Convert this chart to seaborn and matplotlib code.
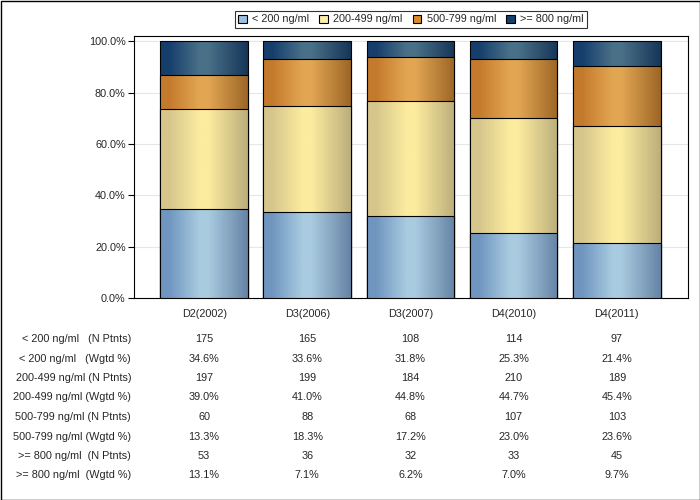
import numpy as np
import pandas as pd
import matplotlib
matplotlib.use("Agg")
import matplotlib.pyplot as plt
import seaborn as sns
from matplotlib.colors import LinearSegmentedColormap
from matplotlib.patches import Patch, Rectangle
from matplotlib.transforms import blended_transform_factory

# data
visits = ["D2(2002)", "D3(2006)", "D3(2007)", "D4(2010)", "D4(2011)"]
groups = ["< 200 ng/ml", "200-499 ng/ml", "500-799 ng/ml", ">= 800 ng/ml"]
n_lt200 = [175, 165, 108, 114, 97]
pct_lt200 = [34.6, 33.6, 31.8, 25.3, 21.4]
n_200_499 = [197, 199, 184, 210, 189]
pct_200_499 = [39.0, 41.0, 44.8, 44.7, 45.4]
n_500_799 = [60, 88, 68, 107, 103]
pct_500_799 = [13.3, 18.3, 17.2, 23.0, 23.6]
n_ge800 = [53, 36, 32, 33, 45]
pct_ge800 = [13.1, 7.1, 6.2, 7.0, 9.7]

row_labels = ["< 200 ng/ml   (N Ptnts)", "< 200 ng/ml   (Wgtd %)",
              "200-499 ng/ml (N Ptnts)", "200-499 ng/ml (Wgtd %)",
              "500-799 ng/ml (N Ptnts)", "500-799 ng/ml (Wgtd %)",
              ">= 800 ng/ml  (N Ptnts)", ">= 800 ng/ml  (Wgtd %)"]

# gradient stops (left edge, highlight, right edge) and legend colour
shades = {
    "< 200 ng/ml": ("#7096c0", "#a9cbe0", "#6684a6", "#9dbfe3"),
    "200-499 ng/ml": ("#d6c68c", "#fcec9f", "#bcae7c", "#fdeeaa"),
    "500-799 ng/ml": ("#c47a2c", "#e2a653", "#9c6626", "#d98b2e"),
    ">= 800 ng/ml": ("#163e6c", "#4a7088", "#163658", "#173f6e"),
}

pct = pd.DataFrame({"visit": visits, groups[0]: pct_lt200, groups[1]: pct_200_499,
                    groups[2]: pct_500_799, groups[3]: pct_ge800})
cum = pct[groups].cumsum(axis=1)
cum.iloc[:, -1] = 100.0
cum["visit"] = visits

sns.set_style("white")
plt.rcParams["font.family"] = ["Liberation Sans", "DejaVu Sans"]
fs = 7.8

fig = plt.figure(figsize=(7, 5), dpi=100)
ax = fig.add_axes([134 / 700, 1 - 298 / 500, (688 - 134) / 700, (298 - 36) / 500])

for y in [20, 40, 60, 80, 100]:
    ax.axhline(y, color="#e6e6e6", lw=0.8, zorder=0)

grad_x = np.linspace(0, 1, 200).reshape(1, -1)
for i, g in enumerate(reversed(groups)):
    left, mid, right, _ = shades[g]
    cmap = LinearSegmentedColormap.from_list(g, [(0, left), (0.1, left), (0.45, mid), (0.55, mid), (1, right)])
    n_before = len(ax.patches)
    sns.barplot(data=cum, x="visit", y=g, order=visits, width=0.85, color=left,
                edgecolor="black", linewidth=0.8, saturation=1, ax=ax)
    z = 2 + 3 * i
    for p in ax.patches[n_before:]:
        x0, y0 = p.get_x(), p.get_y()
        w, h = p.get_width(), p.get_height()
        im = ax.imshow(grad_x, cmap=cmap, extent=[x0, x0 + w, y0, y0 + h],
                       aspect="auto", zorder=z + 1, interpolation="bilinear")
        im.set_clip_path(p)
        p.set_facecolor("none")
        p.set_zorder(z + 2)

ax.set_xlim(-0.68, 4.69)
ax.set_ylim(0, 102)
ax.set_yticks([0, 20, 40, 60, 80, 100])
ax.set_yticklabels([f"{v:.1f}%" for v in [0, 20, 40, 60, 80, 100]])
ax.set_xlabel("")
ax.set_ylabel("")
ax.tick_params(axis="y", length=4, width=0.8, color="black", labelsize=fs, pad=2, left=True)
ax.tick_params(axis="x", length=0, labelsize=fs, pad=8)
for s in ax.spines.values():
    s.set_color("black")
    s.set_linewidth(0.8)

# table under the chart
table_rows = [n_lt200, pct_lt200, n_200_499, pct_200_499, n_500_799, pct_500_799, n_ge800, pct_ge800]
trans = blended_transform_factory(ax.transData, fig.transFigure)
row_y = [339, 358.5, 378, 397.5, 417, 436.5, 456, 475.5]
for r, (lab, vals) in enumerate(zip(row_labels, table_rows)):
    yf = 1 - row_y[r] / 500
    fig.text(131 / 700, yf, lab, ha="right", va="center", fontsize=fs)
    for j, v in enumerate(vals):
        txt = f"{v}" if r % 2 == 0 else f"{v:.1f}%"
        ax.text(j, yf, txt, transform=trans, ha="center", va="center", fontsize=fs)

handles = [Patch(facecolor=shades[g][3], edgecolor="black", linewidth=0.8, label=g) for g in groups]
leg = fig.legend(handles=handles, loc="center", bbox_to_anchor=(411 / 700, 1 - 19.5 / 500), ncol=4,
                 frameon=True, fancybox=False, fontsize=fs, handlelength=0.8, handleheight=0.8,
                 handletextpad=0.5, columnspacing=0.9, borderpad=0.35)
leg.get_frame().set_edgecolor("black")
leg.get_frame().set_linewidth(0.8)

fig.patches.append(Rectangle((0.5 / 700, 0.5 / 500), 699 / 700, 499 / 500, transform=fig.transFigure,
                             fill=False, edgecolor="black", linewidth=1))

fig.savefig("out.png", dpi=100)
